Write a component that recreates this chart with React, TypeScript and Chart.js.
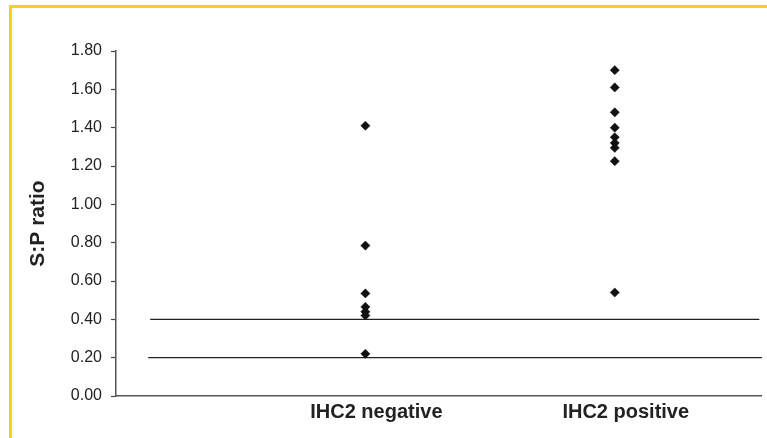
import React, { useEffect, useRef } from "react";
import { Chart, registerables } from "chart.js";

Chart.register(...registerables);

const categories = ["IHC2 negative", "IHC2 positive"];
const negativeValues = [1.41, 0.785, 0.535, 0.465, 0.44, 0.42, 0.22];
const positiveValues = [1.7, 1.61, 1.48, 1.4, 1.35, 1.32, 1.295, 1.225, 0.54];
const thresholdValues = [0.4, 0.2];
const thresholdStarts = [0.137, 0.129];
const thresholdEnds = [2.58, 2.59];
const yTickValues = [0, 0.2, 0.4, 0.6, 0.8, 1.0, 1.2, 1.4, 1.6, 1.8];

export default function App() {
  const ref = useRef<HTMLCanvasElement | null>(null);

  useEffect(() => {
    if (!ref.current) return;
    const font = "'Liberation Sans', Arial, Helvetica, sans-serif";
    const pointStyle = {
      pointStyle: "rectRot" as const,
      pointRadius: 4.6,
      pointBackgroundColor: "#111",
      pointBorderColor: "#111",
      pointBorderWidth: 0.5,
      showLine: false,
    };
    const datasets: any[] = [
      {
        type: "scatter",
        label: categories[0],
        data: negativeValues.map((v) => ({ x: 1, y: v })),
        ...pointStyle,
      },
      {
        type: "scatter",
        label: categories[1],
        data: positiveValues.map((v) => ({ x: 2, y: v })),
        ...pointStyle,
      },
      ...thresholdValues.map((t, i) => ({
        type: "line",
        label: "threshold " + t,
        data: [
          { x: thresholdStarts[i], y: t },
          { x: thresholdEnds[i], y: t },
        ],
        borderColor: "#222",
        borderWidth: 1.2,
        pointRadius: 0,
        fill: false,
      })),
    ];

    const chart = new Chart(ref.current, {
      type: "scatter",
      data: { datasets },
      options: {
        animation: false,
        responsive: false,
        layout: { padding: { top: 51, right: 5, left: 0, bottom: 0 } },
        plugins: { legend: { display: false }, tooltip: { enabled: false } },
        scales: {
          x: {
            type: "linear",
            min: 0,
            max: 2.59,
            afterBuildTicks: (scale: any) => {
              scale.ticks = categories.map((_, i) => ({ value: i + 1 }));
            },
            afterFit: (scale: any) => {
              scale.height = 42;
            },
            ticks: {
              callback: (v: any) => categories[Math.round(Number(v)) - 1] ?? "",
              font: { family: font, size: 20, weight: "bold" },
              color: "#222",
              padding: 4,
              labelOffset: 11,
              maxRotation: 0,
            },
            grid: { display: false, drawTicks: false },
            border: { display: true, color: "#555", width: 1.5 },
          },
          y: {
            min: 0,
            max: 1.8,
            afterBuildTicks: (scale: any) => {
              scale.ticks = yTickValues.map((v) => ({ value: v }));
            },
            afterFit: (scale: any) => {
              scale.width = 116;
            },
            ticks: {
              callback: (v: any) => Number(v).toFixed(2),
              font: { family: font, size: 16 },
              color: "#222",
              padding: 9,
            },
            grid: {
              drawOnChartArea: false,
              drawTicks: true,
              tickLength: 5,
              tickColor: "#444",
              tickWidth: 1.2,
            },
            border: { display: true, color: "#555", width: 1.5 },
            title: {
              display: true,
              text: "S:P ratio",
              font: { family: font, size: 21, weight: "bold" },
              color: "#222",
              padding: { top: 26, bottom: 0 },
            },
          },
        },
      },
    });
    return () => chart.destroy();
  }, []);

  return (
    <div style={{ position: "fixed", left: 0, top: 0, width: 767, height: 438, background: "#fff" }}>
      <div style={{ position: "absolute", left: 9, top: 5, width: 758, height: 3, background: "#F7D117" }} />
      <div style={{ position: "absolute", left: 9, top: 5, width: 3, height: 433, background: "#F7D117" }} />
      <canvas ref={ref} width={767} height={438} style={{ position: "absolute", left: 0, top: 0 }} />
    </div>
  );
}
